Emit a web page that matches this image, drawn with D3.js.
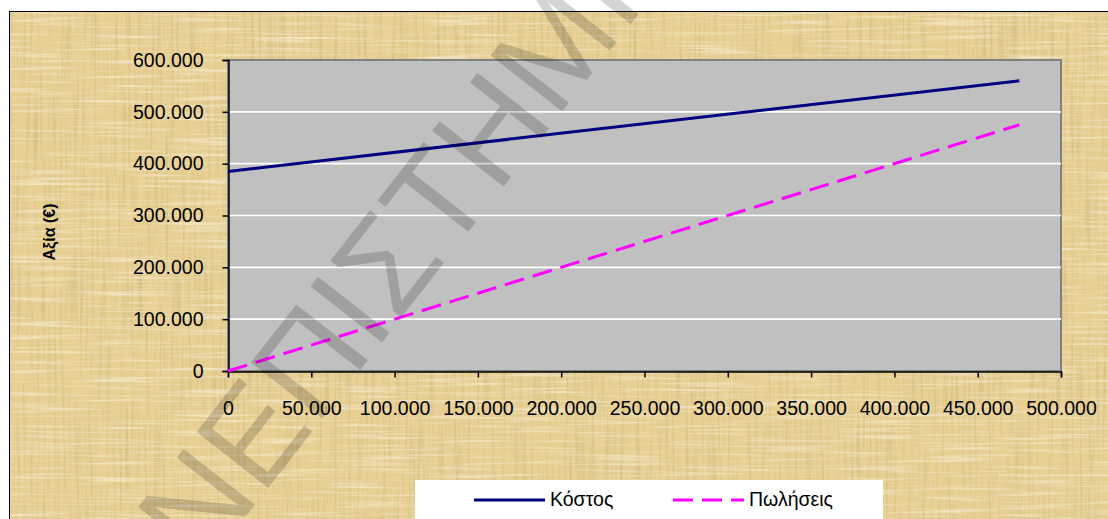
<!DOCTYPE html>
<html>
<head>
<meta charset="utf-8">
<script src="https://cdn.jsdelivr.net/npm/d3@7"></script>
<style>
  body { margin: 0; background: #fff; }
  svg { display: block; }
  .tick text { font-family: "Liberation Sans", Arial, sans-serif; font-size: 19.5px; fill: #000; }
</style>
</head>
<body>
<script>
// data
var xValues = [0, 475000];
var costValues = [385000, 560000];
var salesValues = [0, 475000];
var yTicks = [0, 100000, 200000, 300000, 400000, 500000, 600000];
var xTicks = [0, 50000, 100000, 150000, 200000, 250000, 300000, 350000, 400000, 450000, 500000];
var seriesNames = ["Κόστος", "Πωλήσεις"];
var yTitle = "Αξία (€)";
var watermark = "ΠΑΝΕΠΙΣΤΗΜΙΟ";

var W = 1108, H = 519;
var loc = d3.formatLocale({decimal: ",", thousands: ".", grouping: [3], currency: ["", "€"]});
var fmt = loc.format(",d");

let svg = d3.select("body").append("svg").attr("width", W).attr("height", H);
let defs = svg.append("defs");

// papyrus like texture
let f = defs.append("filter").attr("id", "papyrus").attr("x", 0).attr("y", 0).attr("width", "100%").attr("height", "100%");
f.append("feTurbulence").attr("type", "fractalNoise").attr("baseFrequency", "0.35 0.012").attr("numOctaves", 2).attr("seed", 3).attr("result", "n1");
f.append("feColorMatrix").attr("in", "n1").attr("type", "matrix")
  .attr("values", "0 0 0 0 0.6  0 0 0 0 0.48  0 0 0 0 0.2  1.7 0 0 0 -0.78").attr("result", "c1");
f.append("feTurbulence").attr("type", "fractalNoise").attr("baseFrequency", "0.012 0.35").attr("numOctaves", 2).attr("seed", 7).attr("result", "n2");
f.append("feColorMatrix").attr("in", "n2").attr("type", "matrix")
  .attr("values", "0 0 0 0 1  0 0 0 0 0.96  0 0 0 0 0.82  1.6 0 0 0 -0.8").attr("result", "c2");
f.append("feMerge").selectAll("feMergeNode").data(["c1", "c2"]).enter().append("feMergeNode").attr("in", d => d);

svg.append("rect").attr("x", 9.5).attr("y", 11.5).attr("width", W).attr("height", H)
  .attr("fill", "#e8d095").attr("stroke", "#000").attr("stroke-width", 1);
svg.append("rect").attr("x", 10).attr("y", 12).attr("width", W - 10).attr("height", H - 12)
  .attr("fill", "#e8d095").attr("filter", "url(#papyrus)");

var plot = {left: 228, right: 1061, top: 60, bottom: 371};
var x = d3.scaleLinear().domain([0, 500000]).range([plot.left, plot.right]);
var y = d3.scaleLinear().domain([0, 600000]).range([plot.bottom, plot.top]);

// plot area
svg.append("rect").attr("x", plot.left).attr("y", plot.top)
  .attr("width", plot.right - plot.left).attr("height", plot.bottom - plot.top)
  .attr("fill", "#c0c0c0").attr("stroke", "#808080").attr("stroke-width", 2);

// gridlines
svg.append("g").selectAll("line").data(yTicks.filter(d => d > 0 && d < 600000)).enter().append("line")
  .attr("x1", plot.left).attr("x2", plot.right)
  .attr("y1", d => y(d)).attr("y2", d => y(d))
  .attr("stroke", "#fff").attr("stroke-width", 1.6);

// axes
let yAxis = d3.axisLeft(y).tickValues(yTicks).tickSize(6).tickPadding(19).tickFormat(fmt);
let yg = svg.append("g").attr("transform", "translate(" + (plot.left + 0.5) + ",0)").call(yAxis);
let xAxis = d3.axisBottom(x).tickValues(xTicks).tickSize(6).tickPadding(24).tickFormat(fmt);
let xg = svg.append("g").attr("transform", "translate(0," + (plot.bottom + 0.5) + ")").call(xAxis);
[yg, xg].forEach(function(g) {
  g.selectAll(".domain").attr("stroke", "#000").attr("stroke-width", 1.5);
  g.selectAll(".tick line").attr("stroke", "#000").attr("stroke-width", 1.5);
});

svg.append("text").text(yTitle)
  .attr("transform", "translate(55,232) rotate(-90)")
  .attr("text-anchor", "middle")
  .attr("font-family", "Liberation Sans, Arial, sans-serif").attr("font-weight", "bold").attr("font-size", 16);

// series
let line = d3.line().x(d => x(d[0])).y(d => y(d[1]));
let costData = xValues.map((v, i) => [v, costValues[i]]);
let salesData = xValues.map((v, i) => [v, salesValues[i]]);
svg.append("path").datum(costData).attr("d", line)
  .attr("fill", "none").attr("stroke", "#000080").attr("stroke-width", 3);
svg.append("path").datum(salesData).attr("d", line)
  .attr("fill", "none").attr("stroke", "#ff00ff").attr("stroke-width", 3).attr("stroke-dasharray", "20,9");

// legend
svg.append("rect").attr("x", 415).attr("y", 480).attr("width", 468).attr("height", 60).attr("fill", "#fff");
var legendStyles = [{c: "#000080", dash: null, x: 474}, {c: "#ff00ff", dash: "20,9", x: 673}];
let lg = svg.selectAll(".legitem").data(seriesNames).enter().append("g").attr("class", "legitem");
lg.append("line")
  .attr("x1", (d, i) => legendStyles[i].x).attr("x2", (d, i) => legendStyles[i].x + 71)
  .attr("y1", 500).attr("y2", 500)
  .attr("stroke", (d, i) => legendStyles[i].c).attr("stroke-width", 3)
  .attr("stroke-dasharray", (d, i) => legendStyles[i].dash);
lg.append("text").text(d => d)
  .attr("x", (d, i) => legendStyles[i].x + 76).attr("y", 506)
  .attr("font-family", "Liberation Sans, Arial, sans-serif").attr("font-size", 19.5);

// watermark
svg.append("text").text(watermark)
  .attr("transform", "translate(90,716) rotate(-52)")
  .attr("font-family", "Liberation Sans, Arial, sans-serif").attr("font-size", 132)
  .attr("fill", "#000").attr("fill-opacity", 0.17);
</script>
</body>
</html>
